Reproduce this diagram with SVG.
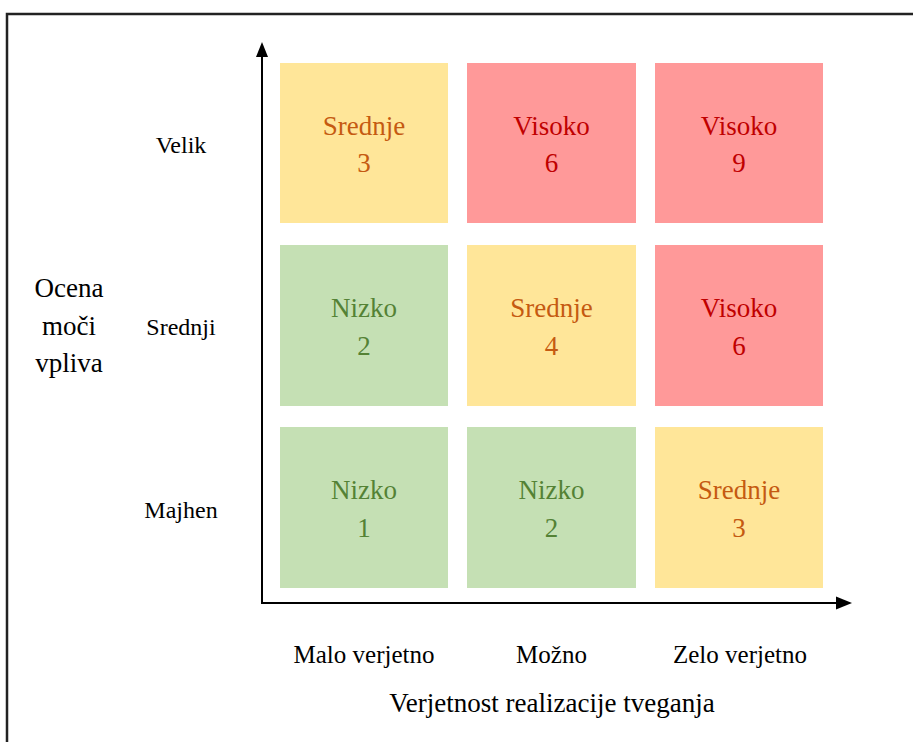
<svg xmlns="http://www.w3.org/2000/svg" width="913" height="742" viewBox="0 0 913 742">
<style>
.cell-y{fill:#FFE699}
.cell-r{fill:#FF9999}
.cell-g{fill:#C5E0B4}
.t{font-family:"Liberation Serif","Times New Roman",serif;text-anchor:middle}
.ct{font-size:27px}
.ty{fill:#C55A11}
.tr{fill:#C00000}
.tg{fill:#548235}
.lbl{font-size:24px;fill:#000}
.axis{stroke:#000;stroke-width:2;fill:none}
</style>
<rect width="913" height="742" fill="#fff"/>
<rect x="7" y="14" width="920" height="740" fill="none" stroke="#222" stroke-width="2.5"/>

<g id="connectors">
  <line class="axis" x1="262" y1="603" x2="262" y2="55"/>
  <polygon points="262,42 256,57 268,57" fill="#000"/>
  <line class="axis" x1="261" y1="603" x2="838" y2="603"/>
  <polygon points="852,603 836,596.5 836,609.5" fill="#000"/>
</g>

<g id="c13"><rect class="cell-y" x="280" y="63" width="168" height="160"/><text class="t ct ty" x="364" y="135">Srednje</text><text class="t ct ty" x="364" y="172">3</text></g>
<g id="c23"><rect class="cell-r" x="467" y="63" width="169" height="160"/><text class="t ct tr" x="551.5" y="135">Visoko</text><text class="t ct tr" x="551.5" y="172">6</text></g>
<g id="c33"><rect class="cell-r" x="655" y="63" width="168" height="160"/><text class="t ct tr" x="739" y="135">Visoko</text><text class="t ct tr" x="739" y="172">9</text></g>

<g id="c12"><rect class="cell-g" x="280" y="245" width="168" height="161"/><text class="t ct tg" x="364" y="317">Nizko</text><text class="t ct tg" x="364" y="355">2</text></g>
<g id="c22"><rect class="cell-y" x="467" y="245" width="169" height="161"/><text class="t ct ty" x="551.5" y="317">Srednje</text><text class="t ct ty" x="551.5" y="355">4</text></g>
<g id="c32"><rect class="cell-r" x="655" y="245" width="168" height="161"/><text class="t ct tr" x="739" y="317">Visoko</text><text class="t ct tr" x="739" y="355">6</text></g>

<g id="c11"><rect class="cell-g" x="280" y="427" width="168" height="161"/><text class="t ct tg" x="364" y="499">Nizko</text><text class="t ct tg" x="364" y="537">1</text></g>
<g id="c21"><rect class="cell-g" x="467" y="427" width="169" height="161"/><text class="t ct tg" x="551.5" y="499">Nizko</text><text class="t ct tg" x="551.5" y="537">2</text></g>
<g id="c31"><rect class="cell-y" x="655" y="427" width="168" height="161"/><text class="t ct ty" x="739" y="499">Srednje</text><text class="t ct ty" x="739" y="537">3</text></g>

<g id="ylabels">
  <text class="t lbl" x="181" y="153">Velik</text>
  <text class="t lbl" x="181" y="335">Srednji</text>
  <text class="t lbl" x="181" y="518">Majhen</text>
</g>
<g id="ytitle">
  <text class="t" x="69" y="297" font-size="27">Ocena</text>
  <text class="t" x="69" y="335" font-size="27">moči</text>
  <text class="t" x="69" y="372" font-size="27">vpliva</text>
</g>
<g id="xlabels">
  <text class="t" x="364" y="663" font-size="25">Malo verjetno</text>
  <text class="t" x="551.5" y="663" font-size="25">Možno</text>
  <text class="t" x="740" y="663" font-size="25">Zelo verjetno</text>
</g>
<g id="xtitle">
  <text class="t" x="552" y="712" font-size="27">Verjetnost realizacije tveganja</text>
</g>
</svg>
